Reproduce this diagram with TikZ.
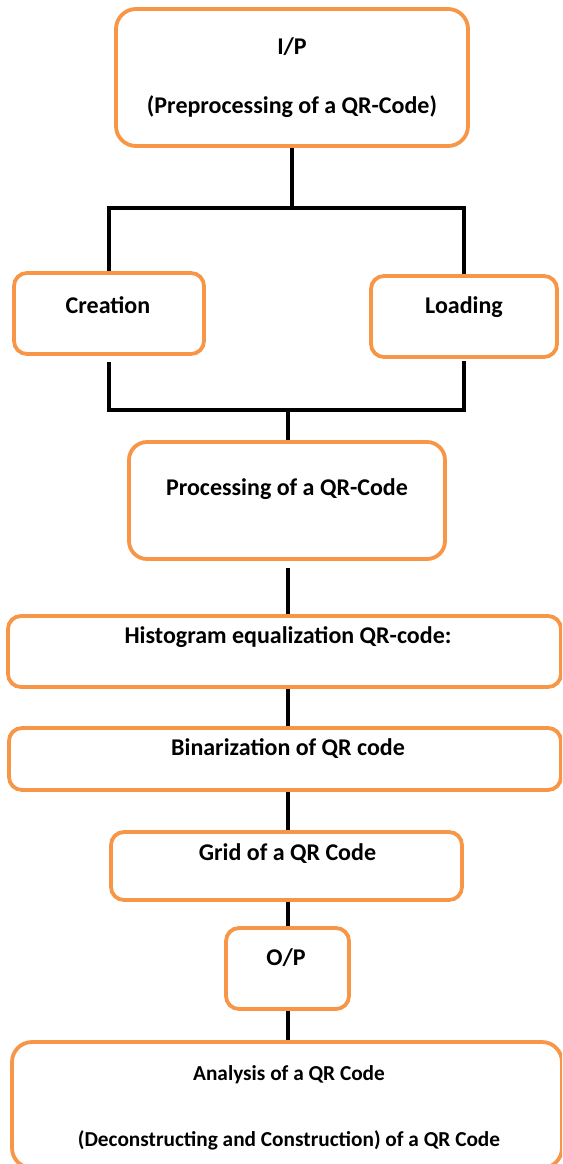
\documentclass[tikz,border=0pt]{standalone}
\usepackage{fontspec}
\setmainfont{Carlito}
\definecolor{boxorange}{HTML}{F79646}

\begin{document}
\begin{tikzpicture}[x=1pt,y=-1pt,
  box/.style={draw=boxorange,line width=3.8pt,rounded corners=13pt,fill=white,inner sep=0pt},
  lbl/.style={font=\fontsize{24}{28}\selectfont\bfseries,inner sep=0pt},
  lblsmall/.style={font=\fontsize{21.3}{25}\selectfont\bfseries,inner sep=0pt},
  wire/.style={line width=4.8pt,black}]
\useasboundingbox (0,0) rectangle (562,1164);
\clip (0,0) rectangle (562,1164);
%---------------- boxes
\node[box,rounded corners=20pt,minimum width=352pt,minimum height=137pt] (ip) at (292,77.5) {};
\node[box,minimum width=190pt,minimum height=81pt] (creation) at (109,313.5) {};
\node[box,minimum width=186pt,minimum height=81pt] (loading) at (464,316.5) {};
\node[box,rounded corners=18pt,minimum width=316pt,minimum height=117pt] (proc) at (287,500.5) {};
\node[box,minimum width=553pt,minimum height=71pt] (histo) at (284.5,651.5) {};
\node[box,minimum width=552pt,minimum height=62pt] (binar) at (285,759) {};
\node[box,minimum width=351pt,minimum height=68pt] (grid) at (286.5,866) {};
\node[box,minimum width=123pt,minimum height=81pt] (op) at (287.5,968.5) {};
\node[box,rounded corners=20pt,minimum width=550pt,minimum height=126pt] (analysis) at (287,1105) {};

% texts
\node[lbl] (iptop) at (292,47) {I/P};
\node[lbl] (ipbot) at (292,107) {(Preprocessing of a QR-Code)};
\node[lbl] (creationtxt) at (108,305) {Creation};
\node[lbl] (loadingtxt) at (464,307) {Loading};
\node[lbl] (proctxt) at (287,489) {Processing of a QR-Code};
\node[lbl] (histotxt) at (288,637) {Histogram equalization QR-code:};
\node[lbl] (binartxt) at (288,749) {Binarization of QR code};
\node[lbl] (gridtxt) at (287.5,854) {Grid of a QR Code};
\node[lbl] (optxt) at (286,958) {O/P};
\node[lblsmall] (anatop) at (289,1075) {Analysis of a QR Code};
\node[lblsmall] (anabot) at (289,1140) {(Deconstructing and Construction) of a QR Code};

%---------------- connectors
\coordinate (split) at (292,208);
\coordinate (merge) at (288,410);
\draw[wire] (ip.south) -- (split);
\draw[wire] (creation.north) |- (split) -| (loading.north);
\draw[wire,shorten <=6pt,shorten >=2pt] (creation.south) |- (merge) -| (loading.south);
\draw[wire] (merge) -- (merge |- proc.north);
\draw[wire,shorten <=7pt] (merge |- proc.south) -- (merge |- histo.north);
\draw[wire] (merge |- histo.south) -- (merge |- binar.north);
\draw[wire] (merge |- binar.south) -- (merge |- grid.north);
\draw[wire] (merge |- grid.south) -- (merge |- op.north);
\draw[wire] (merge |- op.south) -- (merge |- analysis.north);
\end{tikzpicture}
\end{document}
